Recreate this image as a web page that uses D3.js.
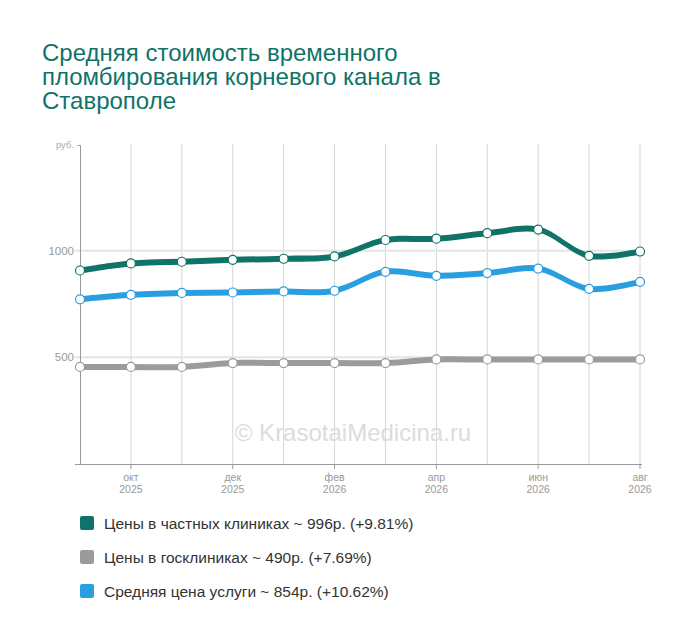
<!DOCTYPE html>
<html>
<head>
<meta charset="utf-8">
<script src="https://cdn.jsdelivr.net/npm/d3@7"></script>
<style>
	body { margin: 0; background: #fff; }
	svg { font-family: "Liberation Sans", Arial, sans-serif; }
</style>
</head>
<body>
<svg id="chart" width="700" height="641"></svg>
<script>
var months = ["сен 2025", "окт 2025", "ноя 2025", "дек 2025", "янв 2026", "фев 2026",
	"мар 2026", "апр 2026", "май 2026", "июн 2026", "июл 2026", "авг 2026"];
var tickMonths = ["окт", "", "дек", "", "фев", "", "апр", "", "июн", "", "авг"];
var tickYears = ["2025", "", "2025", "", "2026", "", "2026", "", "2026", "", "2026"];
var privateVals = [907, 940, 948, 957, 962, 973, 1050, 1056, 1082, 1099, 976, 996];
var publicVals = [455, 455, 455, 473, 473, 473, 473, 490, 490, 490, 490, 490];
var averageVals = [772, 793, 802, 804, 809, 812, 901, 882, 895, 916, 821, 854];
var yTicks = [500, 1000];
var seriesNames = ["Цены в частных клиниках ~ 996р. (+9.81%)",
	"Цены в госклиниках ~ 490р. (+7.69%)",
	"Средняя цена услуги ~ 854р. (+10.62%)"];
var COLORS = ["#0f7367", "#9b9b9b", "#2a9fe0"];

var svg = d3.select("#chart");
var LEFT = 80, RIGHT = 640, TOP = 144, BOTTOM = 464;

var x = d3.scalePoint().domain(months).range([LEFT, RIGHT]);
var y = d3.scaleLinear().domain([0, 1500]).range([BOTTOM, TOP]);

// title
var title = svg.append("text")
	.attr("x", 42)
	.attr("y", 61)
	.attr("fill", "#0f7367")
	.style("font-size", "24px");
["Средняя стоимость временного", "пломбирования корневого канала в", "Ставрополе"].forEach(function(line, i) {
	title.append("tspan").attr("x", 42).attr("dy", i == 0 ? 0 : 24).text(line);
});

// vertical grid
svg.append("g").selectAll("line")
	.data(months.slice(1))
	.enter().append("line")
	.attr("x1", function(d) {return x(d);})
	.attr("x2", function(d) {return x(d);})
	.attr("y1", TOP)
	.attr("y2", BOTTOM)
	.attr("stroke", "#d6d6d6")
	.attr("stroke-width", 1);

// horizontal grid
svg.append("g").selectAll("line")
	.data(yTicks)
	.enter().append("line")
	.attr("x1", 75)
	.attr("x2", RIGHT)
	.attr("y1", function(d) {return y(d);})
	.attr("y2", function(d) {return y(d);})
	.attr("stroke", "#e4e4e4")
	.attr("stroke-width", 2);

svg.append("g").selectAll("text")
	.data(yTicks)
	.enter().append("text")
	.attr("x", 74)
	.attr("y", function(d) {return y(d) + 4;})
	.attr("text-anchor", "end")
	.attr("fill", "#999")
	.style("font-size", "11.5px")
	.text(function(d) {return d;});

// y axis
svg.append("path")
	.attr("d", "M77.5," + (TOP + 1.5) + "H80.5V" + BOTTOM)
	.attr("fill", "none")
	.attr("stroke", "#999");
svg.append("text")
	.attr("x", 74)
	.attr("y", TOP + 4)
	.attr("text-anchor", "end")
	.attr("fill", "#aaa")
	.style("font-size", "9.5px")
	.text("руб.");

// x axis
svg.append("line")
	.attr("x1", 75).attr("x2", RIGHT + 2)
	.attr("y1", BOTTOM + 0.5).attr("y2", BOTTOM + 0.5)
	.attr("stroke", "#999");

var ticks = svg.append("g").selectAll("g")
	.data(months.slice(1))
	.enter().append("g")
	.attr("transform", function(d) {return "translate(" + x(d) + "," + BOTTOM + ")";});
ticks.append("line")
	.attr("y1", 0)
	.attr("y2", function(d, i) {return tickMonths[i] ? 5 : 0;})
	.attr("stroke", "#999");
ticks.append("text")
	.attr("y", 17)
	.attr("text-anchor", "middle")
	.attr("fill", "#999")
	.style("font-size", "10.5px")
	.text(function(d, i) {return tickMonths[i];});
ticks.append("text")
	.attr("y", 29)
	.attr("text-anchor", "middle")
	.attr("fill", "#999")
	.style("font-size", "10.5px")
	.text(function(d, i) {return tickYears[i];});

// watermark
svg.append("text")
	.attr("x", 353)
	.attr("y", 441)
	.attr("text-anchor", "middle")
	.attr("fill", "#dcdcdc")
	.style("font-size", "24px")
	.text("© KrasotaiMedicina.ru");

// series drawn as bands with constant vertical thickness
var HALF = 3;
var band = d3.area()
	.x(function(d, i) {return x(months[i]);})
	.y0(function(d) {return y(d) - HALF;})
	.y1(function(d) {return y(d) + HALF;})
	.curve(d3.curveCatmullRom.alpha(0.5));

var allSeries = [publicVals, averageVals, privateVals];
var allColors = [COLORS[1], COLORS[2], COLORS[0]];

allSeries.forEach(function(vals, k) {
	svg.append("path")
		.attr("d", band(vals))
		.attr("fill", allColors[k]);
});
allSeries.forEach(function(vals, k) {
	svg.append("g").selectAll("circle")
		.data(vals)
		.enter().append("circle")
		.attr("cx", function(d, i) {return x(months[i]);})
		.attr("cy", function(d) {return y(d);})
		.attr("r", 4.5)
		.attr("fill", "#fff")
		.attr("stroke", allColors[k])
		.attr("stroke-width", 1.2);
});

// legend
var legend = svg.append("g").selectAll("g")
	.data(seriesNames)
	.enter().append("g")
	.attr("transform", function(d, i) {return "translate(80," + (516 + i * 34) + ")";});
legend.append("rect")
	.attr("width", 14)
	.attr("height", 14)
	.attr("rx", 2)
	.attr("fill", function(d, i) {return COLORS[i];});
legend.append("text")
	.attr("x", 24)
	.attr("y", 13)
	.attr("fill", "#333")
	.style("font-size", "15.5px")
	.text(function(d) {return d;});
</script>
</body>
</html>
